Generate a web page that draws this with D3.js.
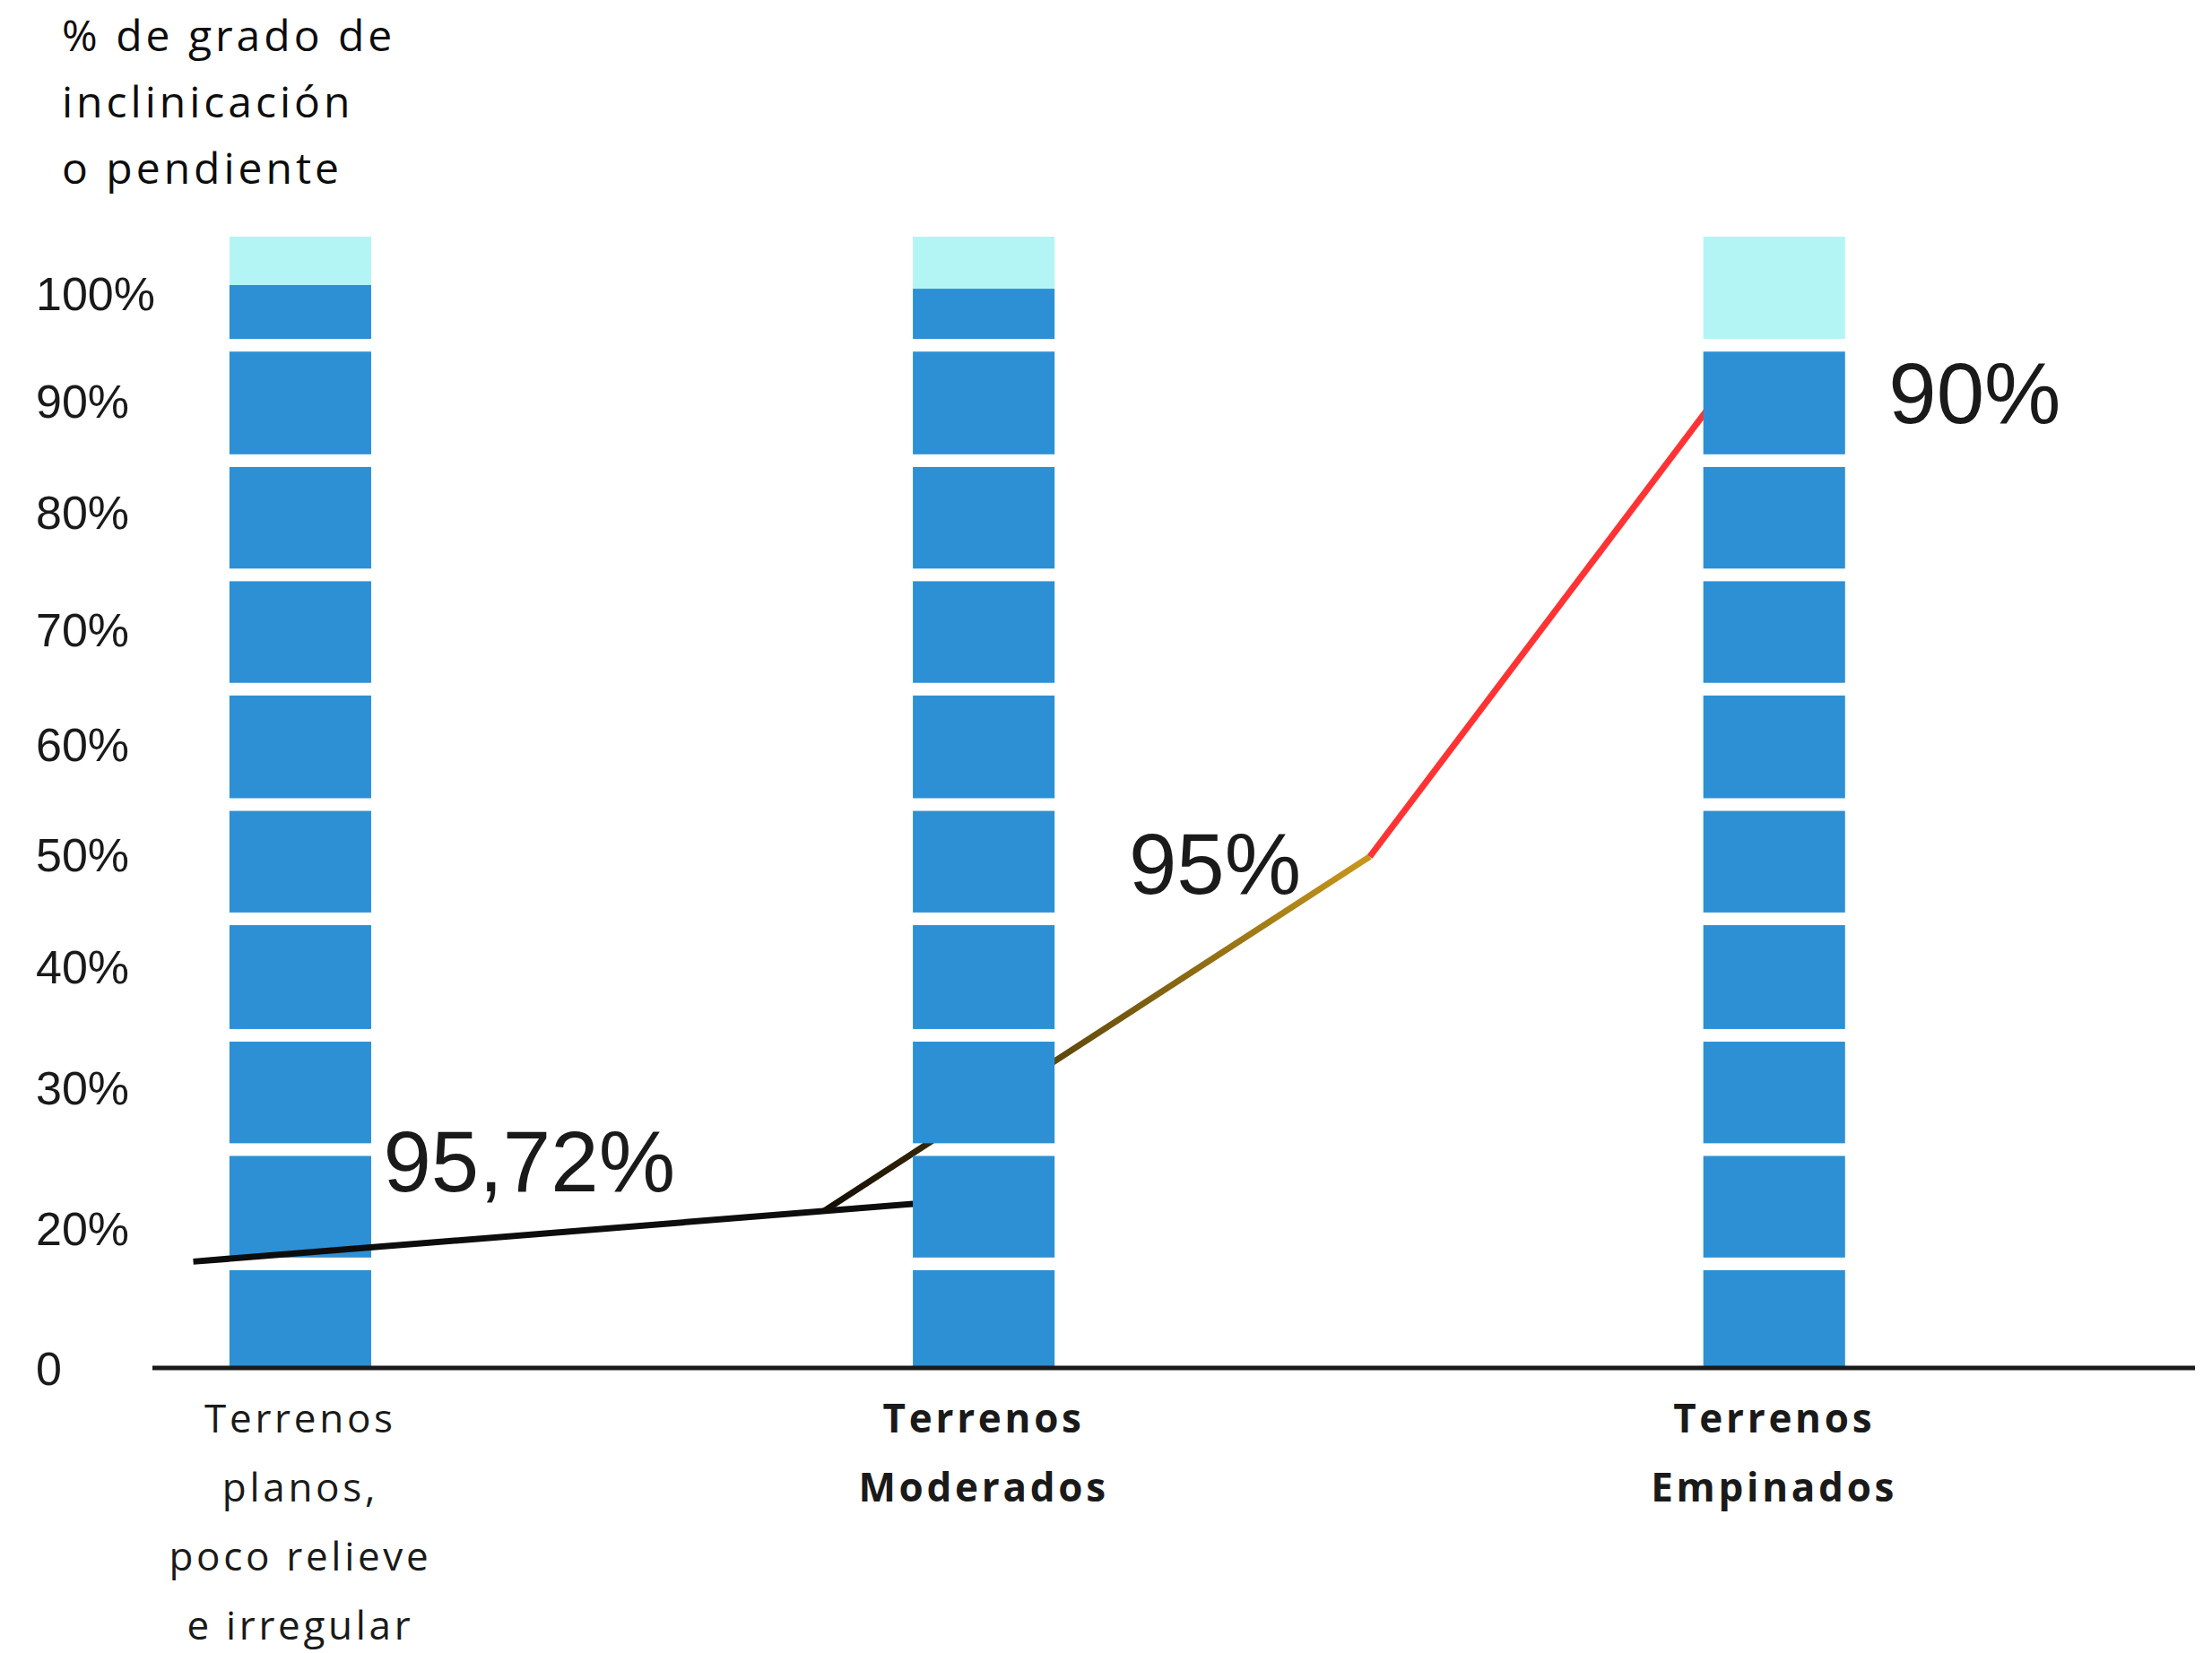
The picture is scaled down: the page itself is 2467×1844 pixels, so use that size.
<!DOCTYPE html>
<html>
<head>
<meta charset="utf-8">
<script src="https://cdn.jsdelivr.net/npm/d3@7"></script>
<style>
  body { margin: 0; background: #fff; }
  svg { display: block; }
</style>
</head>
<body>
<div id="chart"></div>
<script>
// Data
var categories      =   [
    ["Terrenos", "planos,", "poco relieve", "e irregular"],
    ["Terrenos", "Moderados"],
    ["Terrenos", "Empinados"]
];
var cat_pos         =   [7.24, 40.7, 79.4];      // where each bar sits on the x scale
var values          =   [95.72, 95.4, 90];
var gap_at          =   [9.2, 19.3, 29.4, 39.7, 49.8, 60.0, 70.1, 80.2, 90.4];
var tick_labels     =   ["0", "20%", "30%", "40%", "50%", "60%", "70%", "80%", "90%", "100%"];
var tick_at         =   [0, 12.4, 24.8, 35.5, 45.4, 55.2, 65.3, 75.7, 85.5, 95.0];
var trend_x         =   [2.0, 32.9, 59.6, 76.5];
var trend_y         =   [9.4, 13.9, 45.2, 85.6];
var trend_tail      =   { x: 40.7, y: 15.0 };    // first stroke runs on behind the middle bar
var label_text      =   ["95,72%", "95%", "90%"];
var label_x         =   [11.3, 47.8, 85.0];
var label_y         =   [15.6, 41.9, 83.5];
var title_lines     =   ["% de grado de", "inclinicación", "o pendiente"];

var chart_width     =   2467;
var chart_height    =   1844;
var bar_w           =   6.94;
var gap_half        =   0.56;

// Scales
var x_scale         =   d3.scaleLinear().domain([0, 100]).range([170, 2448]);
var y_scale         =   d3.scaleLinear().domain([0, 100]).range([1526, 264]);

// Create SVG
var svg             =   d3.select("#chart")
    .append("svg")
    .attr("width", chart_width)
    .attr("height", chart_height);

// gradient for the middle stroke
var defs = svg.append("defs");
var grad = defs.append("linearGradient")
    .attr("id", "mid_grad")
    .attr("gradientUnits", "userSpaceOnUse")
    .attr("x1", x_scale(trend_x[1])).attr("y1", y_scale(trend_y[1]))
    .attr("x2", x_scale(trend_x[2])).attr("y2", y_scale(trend_y[2]));
grad.append("stop").attr("offset", "0%").attr("stop-color", "#120d02");
grad.append("stop").attr("offset", "100%").attr("stop-color", "#c8981c");

// split a bar into its blocks (dark up to value, cyan above), skipping gaps
function blocks(v) {
    var edges = [0];
    gap_at.forEach(function(g) { edges.push(g - gap_half, g + gap_half); });
    edges.push(100);
    var out = [];
    for (var i = 0; i < edges.length; i += 2) {
        var a = edges[i], b = edges[i + 1];
        if (a < v) out.push({ lo: a, hi: Math.min(b, v), fill: "#2d90d4" });
        if (b > v) out.push({ lo: Math.max(a, v), hi: b, fill: "#b3f5f4" });
    }
    return out;
}

function drawBar(g, i) {
    g.selectAll("rect.b" + i)
        .data(blocks(values[i]))
        .enter()
        .append("rect")
        .attr("class", "b" + i)
        .attr("x", x_scale(cat_pos[i] - bar_w / 2))
        .attr("width", x_scale(bar_w) - x_scale(0))
        .attr("y", function(d) { return y_scale(d.hi); })
        .attr("height", function(d) { return y_scale(d.lo) - y_scale(d.hi); })
        .attr("fill", function(d) { return d.fill; });
}

// first bar sits under the line, the others over it
var back = svg.append("g");
drawBar(back, 0);

var trend = svg.append("g").attr("fill", "none").attr("stroke-width", 7);
trend.append("line")
    .attr("x1", x_scale(trend_x[0])).attr("y1", y_scale(trend_y[0]))
    .attr("x2", x_scale(trend_tail.x)).attr("y2", y_scale(trend_tail.y))
    .attr("stroke", "#0d0d0d");
trend.append("line")
    .attr("x1", x_scale(trend_x[1])).attr("y1", y_scale(trend_y[1]))
    .attr("x2", x_scale(trend_x[2])).attr("y2", y_scale(trend_y[2]))
    .attr("stroke", "url(#mid_grad)");
trend.append("line")
    .attr("x1", x_scale(trend_x[2])).attr("y1", y_scale(trend_y[2]))
    .attr("x2", x_scale(trend_x[3])).attr("y2", y_scale(trend_y[3]))
    .attr("stroke", "#ff3333");

var front = svg.append("g");
drawBar(front, 1);
drawBar(front, 2);

// Baseline
svg.append("line")
    .attr("x1", x_scale(0)).attr("x2", x_scale(100))
    .attr("y1", y_scale(0)).attr("y2", y_scale(0))
    .attr("stroke", "#1a1a1a")
    .attr("stroke-width", 5);

// Y axis (labels only)
var y_axis          =   d3.axisLeft(y_scale)
    .tickValues(tick_at)
    .tickSize(0)
    .tickFormat(function(d, i) { return tick_labels[i]; });

var y_g = svg.append("g")
    .attr("transform", "translate(40,0)")
    .call(y_axis);
y_g.select(".domain").remove();
y_g.selectAll("text")
    .attr("x", 0)
    .attr("text-anchor", "start")
    .attr("dy", "0.36em")
    .attr("fill", "#1a1a1a")
    .style("font-family", "'Liberation Sans', Arial, sans-serif")
    .style("font-size", "52px");

// Value labels
svg.selectAll("text.val")
    .data(label_text)
    .enter()
    .append("text")
    .attr("class", "val")
    .attr("x", function(d, i) { return x_scale(label_x[i]); })
    .attr("y", function(d, i) { return y_scale(label_y[i]); })
    .attr("fill", "#1a1a1a")
    .style("font-family", "'Liberation Sans', Arial, sans-serif")
    .style("font-size", "96px")
    .text(function(d) { return d; });

// Category labels
categories.forEach(function(lines, i) {
    var t = svg.append("text")
        .attr("text-anchor", "middle")
        .attr("fill", "#1a1a1a")
        .style("font-family", "'Open Sans', sans-serif")
        .style("font-size", "44px")
        .style("letter-spacing", "3.7px")
        .style("font-weight", i === 0 ? 400 : 700);
    lines.forEach(function(s, j) {
        t.append("tspan")
            .attr("x", x_scale(cat_pos[i]))
            .attr("y", 1598 + j * 77)
            .text(s);
    });
});

// Axis title
var title = svg.append("text")
    .attr("fill", "#0d0d0d")
    .style("font-family", "'Open Sans', sans-serif")
    .style("font-size", "48px")
    .style("letter-spacing", "4px");
title_lines.forEach(function(s, j) {
    title.append("tspan")
        .attr("x", 69)
        .attr("y", 57 + j * 74)
        .text(s);
});
</script>
</body>
</html>
